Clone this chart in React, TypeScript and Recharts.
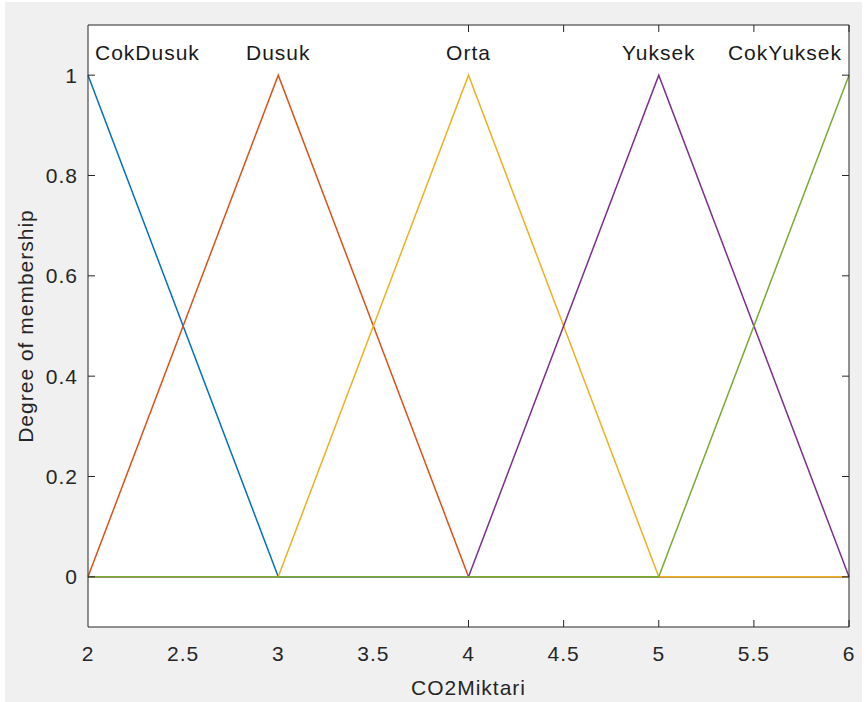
import React from 'react';
import { LineChart, Line, XAxis, YAxis, CartesianGrid } from 'recharts';

// membership function break points on the CO2Miktari axis
const xBreaks = [2, 3, 4, 5, 6];

const cokDusuk = [1, 0, 0, 0, 0];
const dusuk = [0, 1, 0, 0, 0];
const orta = [0, 0, 1, 0, 0];
const yuksek = [0, 0, 0, 1, 0];
const cokYuksek = [0, 0, 0, 0, 1];

const mfNames = ['CokDusuk', 'Dusuk', 'Orta', 'Yuksek', 'CokYuksek'];
const mfValues = [cokDusuk, dusuk, orta, yuksek, cokYuksek];
const mfColors = ['#0072BD', '#D95319', '#EDB120', '#7E2F8E', '#77AC30'];

const xTicks = [2, 2.5, 3, 3.5, 4, 4.5, 5, 5.5, 6];
const yTicks = [0, 0.2, 0.4, 0.6, 0.8, 1];

const data = xBreaks.map((x, i) => {
  const row: Record<string, number> = { x };
  mfNames.forEach((name, k) => {
    row[name] = mfValues[k][i];
  });
  return row;
});

const AXIS = '#262626';
const FONT = 21;
const SPACING = 1;

// name text above each peak, kept inside the axes at the ends
const peakLabel = (name: string, idx: number) => (props: any) => {
  const { x, y, value } = props;
  if (value !== 1) return null;
  let anchor: 'start' | 'middle' | 'end' = 'middle';
  let dx = 0;
  if (idx === 0) {
    anchor = 'start';
    dx = 7;
  } else if (idx === mfNames.length - 1) {
    anchor = 'end';
    dx = -7;
  }
  return (
    <text key={name} x={x + dx} y={y - 15} textAnchor={anchor} fill="#1a1a1a" fontSize={FONT} letterSpacing={SPACING}>
      {name}
    </text>
  );
};

// tick lines only, no text
const noText = () => <g />;

export default function App() {
  return (
    <div
      style={{
        position: 'absolute',
        left: 0,
        top: 0,
        width: 866,
        height: 702,
        background: '#fff',
        fontFamily: '"Liberation Sans", Arial, sans-serif',
      }}
    >
      <div style={{ position: 'absolute', left: 5, top: 2, width: 857, height: 700, background: '#f0f0f0' }} />
      <div style={{ position: 'absolute', left: 0, top: 0 }}>
        <LineChart width={866} height={702} data={data} margin={{ top: 25, right: 17, bottom: 0, left: 0 }}>
          <CartesianGrid fill="#fff" horizontal={false} vertical={false} />
          <XAxis
            dataKey="x"
            type="number"
            domain={[2, 6]}
            ticks={xTicks}
            height={75}
            tickLine={false}
            tickSize={0}
            tickMargin={19}
            axisLine={{ stroke: AXIS }}
            tick={{ fill: AXIS, fontSize: FONT, letterSpacing: SPACING }}
            label={{ value: 'CO2Miktari', position: 'insideBottom', offset: 7, fill: AXIS, fontSize: FONT, letterSpacing: SPACING }}
          />
          <YAxis
            type="number"
            domain={[-0.1, 1.1]}
            ticks={yTicks}
            width={88}
            tickLine={false}
            tickSize={0}
            tickMargin={10}
            axisLine={{ stroke: AXIS }}
            tick={{ fill: AXIS, fontSize: FONT, letterSpacing: SPACING }}
            allowDataOverflow
            label={{
              value: 'Degree of membership',
              angle: -90,
              position: 'insideLeft',
              offset: 26,
              fill: AXIS,
              fontSize: FONT,
              letterSpacing: SPACING,
              style: { textAnchor: 'middle' },
            }}
          />
          {/* inward ticks on all four sides of the box */}
          <XAxis xAxisId="bottomIn" type="number" domain={[2, 6]} ticks={xTicks} mirror tick={noText}
            axisLine={false} tickSize={7} tickLine={{ stroke: AXIS }} allowDataOverflow />
          <XAxis xAxisId="top" orientation="top" type="number" domain={[2, 6]} ticks={xTicks} mirror tick={noText}
            axisLine={{ stroke: AXIS }} tickSize={7} tickLine={{ stroke: AXIS }} allowDataOverflow />
          <YAxis yAxisId="leftIn" type="number" domain={[-0.1, 1.1]} ticks={yTicks} mirror tick={noText}
            axisLine={false} tickSize={7} tickLine={{ stroke: AXIS }} allowDataOverflow />
          <YAxis yAxisId="right" orientation="right" type="number" domain={[-0.1, 1.1]} ticks={yTicks} mirror
            tick={noText} axisLine={{ stroke: AXIS }} tickSize={7} tickLine={{ stroke: AXIS }} allowDataOverflow />
          {mfNames.map((name, i) => (
            <Line
              key={name}
              type="linear"
              dataKey={name}
              stroke={mfColors[i]}
              strokeWidth={1.5}
              dot={false}
              isAnimationActive={false}
              label={peakLabel(name, i)}
            />
          ))}
        </LineChart>
      </div>
    </div>
  );
}
